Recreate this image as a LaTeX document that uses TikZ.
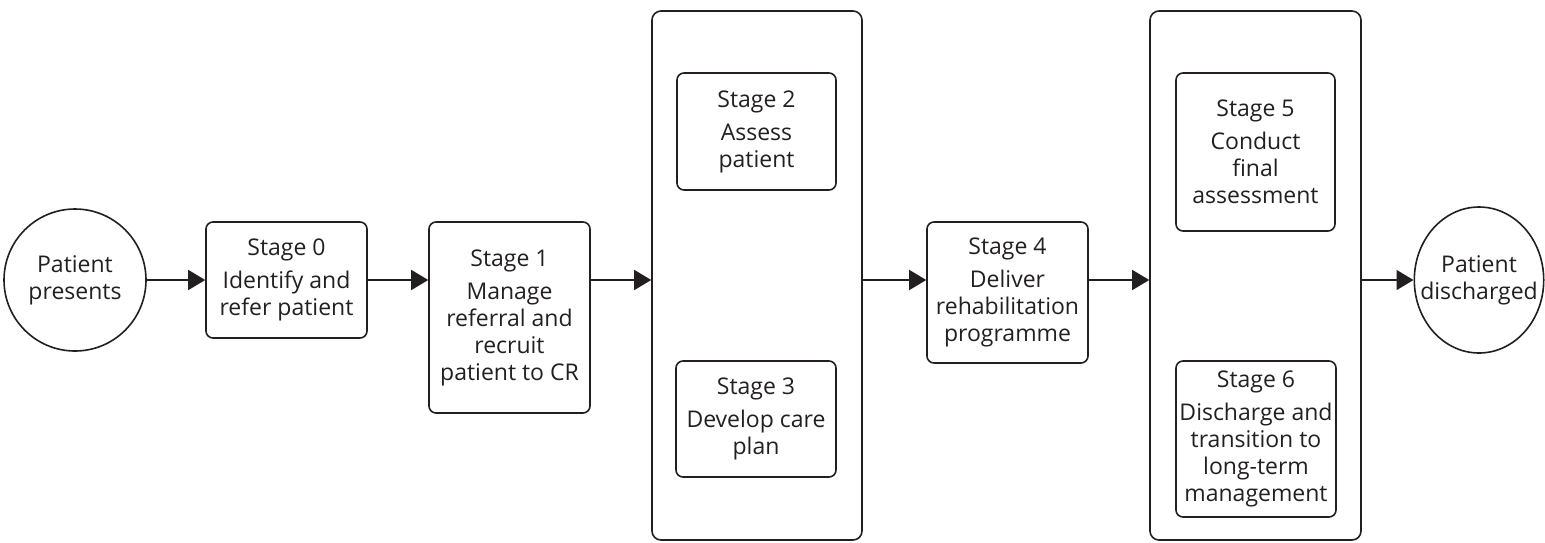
\documentclass[tikz,border=0pt]{standalone}
\usepackage{fontspec}
\setmainfont{Open Sans}
\usetikzlibrary{arrows.meta,shapes.geometric}
\definecolor{encre}{HTML}{231F20}
\begin{document}
\begin{tikzpicture}[x=1pt,y=-1pt]
\tikzstyle{noeud}=[draw=encre, line width=1.6pt, text=encre, align=center, inner sep=0pt, font=\fontsize{23}{27}\selectfont];
\tikzstyle{etape}=[noeud, rounded corners=7pt];
\tikzstyle{cadre}=[draw=encre, line width=1.6pt, rounded corners=9pt, inner sep=0pt];
\tikzstyle{fleche}=[draw=encre, line width=1.6pt, -{Triangle[length=17pt,width=20pt]}];
\useasboundingbox (0,0) rectangle (1545,542);

\node[noeud, circle, minimum size=142pt] (presents) at (75,280) {Patient\\presents};
\node[etape, minimum width=161pt, minimum height=116pt] (0) at (286.5,280) {Stage 0\\[6pt]Identify and\\refer patient};
\node[etape, minimum width=161pt, minimum height=191pt] (1) at (509.5,317.5) {Stage 1\\[6pt]Manage\\referral and\\recruit\\patient to CR};
\node[cadre, minimum width=210pt, minimum height=529pt] (groupe1) at (757,275.5) {};
\node[etape, minimum width=159pt, minimum height=117pt] (2) at (756.5,131.5) {Stage 2\\[6pt]Assess\\patient};
\node[etape, minimum width=160pt, minimum height=116pt] (3) at (756,419) {Stage 3\\[6pt]Develop care\\plan};
\node[etape, minimum width=161pt, minimum height=141pt] (4) at (1007.5,292.5) {Stage 4\\[6pt]Deliver\\rehabilitation\\programme};
\node[cadre, minimum width=211pt, minimum height=529pt] (groupe2) at (1255.5,275.5) {};
\node[etape, minimum width=159pt, minimum height=158pt] (5) at (1255.5,152) {Stage 5\\[6pt]Conduct\\final\\assessment};
\node[etape, minimum width=160pt, minimum height=156pt] (6) at (1256,439) {Stage 6\\[6pt]Discharge and\\transition to\\long-term\\management};
\node[noeud, ellipse, inner xsep=-13pt, minimum height=146pt] (discharged) at (1479,280) {Patient\\discharged};

\draw[fleche] (presents.east) -- (presents.east -| 0.west);
\draw[fleche] (0.east) -- (0.east -| 1.west);
\draw[fleche] (presents.east -| 1.east) -- (presents.east -| groupe1.west);
\draw[fleche] (presents.east -| groupe1.east) -- (presents.east -| 4.west);
\draw[fleche] (presents.east -| 4.east) -- (presents.east -| groupe2.west);
\draw[fleche] (presents.east -| groupe2.east) -- (discharged.west);
\end{tikzpicture}
\end{document}
